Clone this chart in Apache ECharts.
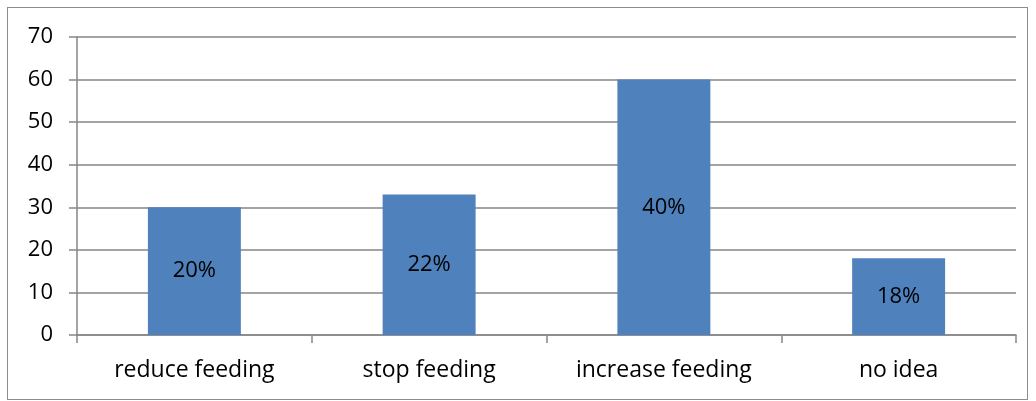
<!DOCTYPE html>
<html><head><meta charset="utf-8">
<script src="https://cdn.jsdelivr.net/npm/echarts@6/dist/echarts.min.js"></script>
<style>html,body{margin:0;padding:0;background:#fff}#wrap{position:absolute;left:7px;top:7px;width:1021px;height:393px;border:1px solid #8c8c8c;box-sizing:border-box}#c{position:absolute;left:0;top:0;width:1036px;height:401px}</style>
</head><body><div id="wrap"></div><div id="c"></div>
<script>
var categories = ['reduce feeding', 'stop feeding', 'increase feeding', 'no idea'];
var values = [30, 33, 60, 18];
var labels = ['20%', '22%', '40%', '18%'];
var chart = echarts.init(document.getElementById('c'));
var font = '"Open Sans", sans-serif';
chart.setOption({
  animation: false,
  grid: {left: 77, right: 20, top: 37, bottom: 66, containLabel: false},
  xAxis: {
    type: 'category', data: categories,
    axisLine: {lineStyle: {color: '#868686', width: 1.5}},
    axisTick: {show: true, length: 8, lineStyle: {color: '#868686', width: 1.5}},
    axisLabel: {color: '#000', fontSize: 23, fontFamily: font, margin: 24}
  },
  yAxis: {
    type: 'value', min: 0, max: 70, interval: 10,
    axisLine: {show: true, lineStyle: {color: '#868686', width: 1.5}},
    axisTick: {show: true, length: 8, lineStyle: {color: '#868686', width: 1.5}},
    splitLine: {lineStyle: {color: '#868686', width: 1.5}},
    axisLabel: {color: '#000', fontSize: 22, fontFamily: font, margin: 24}
  },
  series: [{
    type: 'bar', data: values, barWidth: '39.6%',
    itemStyle: {color: '#4F81BD'},
    label: {show: true, position: 'inside', color: '#000', fontSize: 22, fontFamily: font,
      formatter: function (p) { return labels[p.dataIndex]; }}
  }]
});
</script></body></html>
